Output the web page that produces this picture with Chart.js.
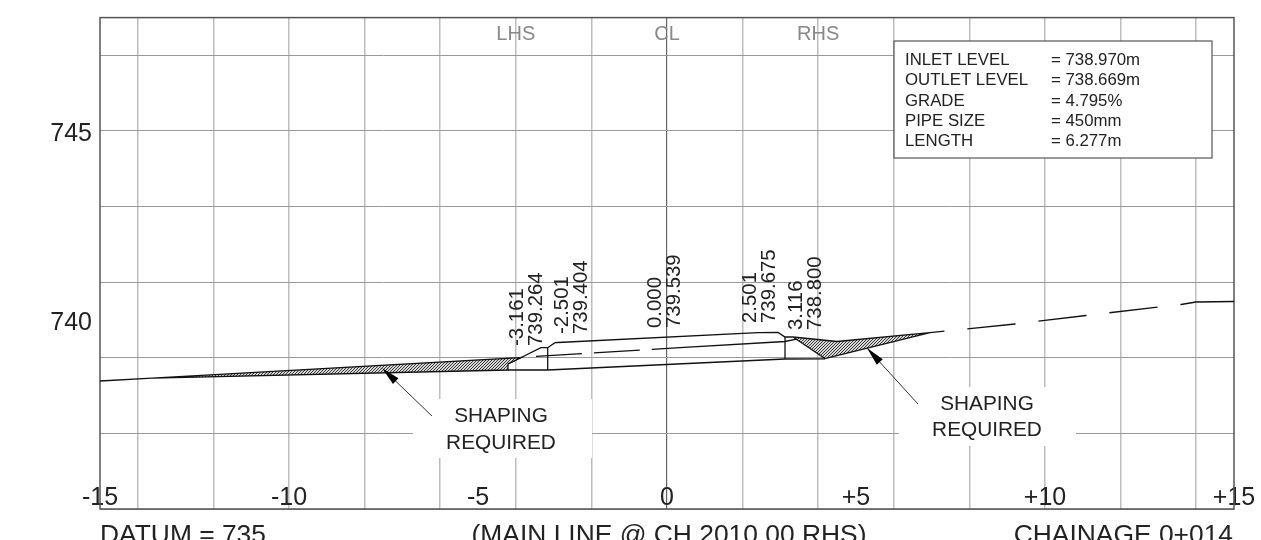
<!DOCTYPE html>
<html>
<head>
<meta charset="utf-8">
<script src="https://cdn.jsdelivr.net/npm/chart.js@4/dist/chart.umd.min.js"></script>
<style>
  html, body { margin: 0; padding: 0; background: #fff; overflow: hidden; }
  canvas { display: block; }
</style>
</head>
<body>
<canvas id="section" width="1261" height="540"></canvas>
<script>
// axis values
const xGridValues = [-14, -12, -10, -8, -6, -4, -2, 0, 2, 4, 6, 8, 10, 12, 14];
const xLabelValues = [-15, -10, -5, 0, 5, 10, 15];
const xTickLabels = ['-15', '-10', '-5', '0', '+5', '+10', '+15'];
const yGridValues = [735, 737, 739, 741, 743, 745, 747];
const yLabelValues = [745, 740];
const yTickLabels = ['745', '740'];

// ground and culvert section, offset (m) and level (m)
const groundLeftX = [-15, -13.624];
const groundLeftY = [738.386, 738.46];
const shapingLeftX = [-13.624, -3.862, -4.206, -4.206, -13.624];
const shapingLeftY = [738.46, 739.008, 738.836, 738.677, 738.46];
const shapingRightX = [3.333, 4.497, 6.958, 4.18, 3.333];
const shapingRightY = [739.55, 739.431, 739.664, 738.981, 739.55];
const groundDashX = [6.958, 9.206, 11.085, 12.989, 13.598];
const groundDashY = [739.664, 739.894, 740.119, 740.344, 740.41];
const groundRightX = [13.598, 13.995, 15];
const groundRightY = [740.41, 740.476, 740.49];
const topX = [-4.206, -3.333, -3.156, -2.963, -2.884, 2.407, 2.937, 3.122, 3.333];
const topY = [738.836, 739.267, 739.267, 739.399, 739.405, 739.664, 739.669, 739.55, 739.55];
const baseX = [-4.206, -3.156, 3.122, 4.18];
const baseY = [738.677, 738.677, 738.968, 738.974];
const wallLeftX = [-3.156, -3.156];
const wallLeftY = [739.267, 738.677];
const wallRightX = [3.122, 3.122];
const wallRightY = [739.55, 738.968];
const pipeDashX = [-3.466, 0.344];
const pipeDashY = [739.04, 739.267];
const pipeX = [0.344, 3.122, 3.519];
const pipeY = [739.267, 739.431, 739.511];
const leaderLeftX = [-6.217, -7.54];
const leaderLeftY = [737.46, 738.73];
const leaderRightX = [6.64, 5.291];
const leaderRightY = [737.778, 739.259];

// text
const setoutOffsets = ['-3.161', '-2.501', '0.000', '2.501', '3.116'];
const setoutLevels = ['739.264', '739.404', '739.539', '739.675', '738.800'];
const infoNames = ['INLET LEVEL', 'OUTLET LEVEL', 'GRADE', 'PIPE SIZE', 'LENGTH'];
const infoValues = ['= 738.970m', '= 738.669m', '= 4.795%', '= 450mm', '= 6.277m'];

const pts = (xs, ys) => xs.map((x, i) => ({ x, y: ys[i] }));

function hatchPattern() {
  const c = document.createElement('canvas');
  c.width = 3;
  c.height = 3;
  const g = c.getContext('2d');
  g.fillStyle = '#d8d8d8';
  g.fillRect(0, 0, 3, 3);
  g.strokeStyle = '#222';
  g.lineWidth = 0.9;
  g.beginPath();
  g.moveTo(-1, 4); g.lineTo(4, -1);
  g.moveTo(-1, 1); g.lineTo(1, -1);
  g.moveTo(2, 4); g.lineTo(4, 2);
  g.stroke();
  return g.createPattern(c, 'repeat');
}

const ink = '#111';
function line(xs, ys, extra) {
  return Object.assign({
    data: pts(xs, ys),
    borderColor: ink,
    borderWidth: 1.3,
    pointRadius: 0,
    tension: 0,
    fill: false
  }, extra);
}

// everything that is not a series: frame, masks, text
const sectionText = {
  id: 'sectionText',
  beforeDatasetsDraw(chart) {
    const { ctx, chartArea: a } = chart;
    ctx.save();
    ctx.fillStyle = '#fff';
    ctx.fillRect(413, 399, 179, 59);
    ctx.fillRect(899, 387, 177, 59);
    ctx.strokeStyle = '#555';
    ctx.lineWidth = 1.5;
    ctx.strokeRect(a.left, a.top, a.right - a.left, a.bottom - a.top);
    ctx.restore();
  },
  afterDatasetsDraw(chart) {
    const { ctx, scales: { x, y } } = chart;
    ctx.save();

    // arrow heads on the leaders
    [[leaderLeftX, leaderLeftY], [leaderRightX, leaderRightY]].forEach(([xs, ys]) => {
      const tx = x.getPixelForValue(xs[1]), ty = y.getPixelForValue(ys[1]);
      const fx = x.getPixelForValue(xs[0]), fy = y.getPixelForValue(ys[0]);
      const ang = Math.atan2(ty - fy, tx - fx);
      ctx.save();
      ctx.translate(tx, ty);
      ctx.rotate(ang);
      ctx.fillStyle = '#000';
      ctx.beginPath();
      ctx.moveTo(0, 0);
      ctx.lineTo(-19, -4);
      ctx.lineTo(-19, 4);
      ctx.closePath();
      ctx.fill();
      ctx.restore();
    });

    ctx.textBaseline = 'middle';
    ctx.textAlign = 'center';
    ctx.fillStyle = '#888';
    ctx.font = '20px "Liberation Sans"';
    [['LHS', -4], ['CL', 0], ['RHS', 4]].forEach(([t, v]) => {
      ctx.fillText(t, x.getPixelForValue(v), 34);
    });

    ctx.fillStyle = '#222';
    ctx.font = '20.8px "Liberation Sans"';
    ctx.fillText('SHAPING', 501, 416);
    ctx.fillText('REQUIRED', 501, 443);
    ctx.fillText('SHAPING', 987, 404);
    ctx.fillText('REQUIRED', 987, 430);

    // rotated setout labels
    const anchors = [[527, 346], [571.5, 334], [664.5, 328], [760, 323], [805.5, 330]];
    ctx.font = '20.4px "Liberation Sans"';
    ctx.textAlign = 'left';
    setoutOffsets.forEach((t, i) => {
      ctx.save();
      ctx.translate(anchors[i][0], anchors[i][1]);
      ctx.rotate(-Math.PI / 2);
      ctx.fillText(t, 0, -9.5);
      ctx.fillText(setoutLevels[i], 0, 9.5);
      ctx.restore();
    });

    // info box
    ctx.fillStyle = '#fff';
    ctx.strokeStyle = '#555';
    ctx.lineWidth = 1.2;
    ctx.fillRect(894, 41, 318, 117);
    ctx.strokeRect(894, 41, 318, 117);
    ctx.fillStyle = '#222';
    ctx.font = '16.8px "Liberation Sans"';
    infoNames.forEach((t, i) => {
      ctx.fillText(t, 905, 60.5 + i * 20.2);
      ctx.fillText(infoValues[i], 1051, 60.5 + i * 20.2);
    });

    // footer, runs off the bottom of the page like the drawing does
    ctx.font = '26.4px "Liberation Sans"';
    ctx.fillStyle = '#222';
    ctx.textBaseline = 'alphabetic';
    ctx.textAlign = 'left';
    ctx.fillText('DATUM = 735', 100, 542.5);
    ctx.textAlign = 'center';
    ctx.fillText('(MAIN LINE @ CH 2010.00 RHS)', 669, 542.5);
    ctx.textAlign = 'right';
    ctx.fillText('CHAINAGE 0+014', 1233, 542.5);
    ctx.restore();
  }
};

new Chart(document.getElementById('section'), {
  type: 'line',
  data: {
    datasets: [
      line(groundLeftX, groundLeftY),
      line(shapingLeftX, shapingLeftY, { fill: 'shape', backgroundColor: hatchPattern() }),
      line(shapingRightX, shapingRightY, { fill: 'shape', backgroundColor: hatchPattern() }),
      line(groundDashX, groundDashY, { borderDash: [48.5, 23], borderDashOffset: 34 }),
      line(groundRightX, groundRightY),
      line(topX, topY),
      line(baseX, baseY),
      line(wallLeftX, wallLeftY),
      line(wallRightX, wallRightY),
      line(pipeDashX, pipeDashY, { borderDash: [46, 12] }),
      line(pipeX, pipeY),
      line(leaderLeftX, leaderLeftY, { borderColor: '#333', borderWidth: 1 }),
      line(leaderRightX, leaderRightY, { borderColor: '#333', borderWidth: 1 })
    ]
  },
  options: {
    responsive: false,
    animation: false,
    layout: { padding: { left: 40, right: 27, top: 17.6, bottom: 31 } },
    plugins: { legend: { display: false }, tooltip: { enabled: false } },
    scales: {
      x: {
        type: 'linear',
        min: -15,
        max: 15,
        afterBuildTicks(s) {
          s.ticks = [...new Set([...xLabelValues, ...xGridValues])].sort((a, b) => a - b).map(value => ({ value }));
        },
        afterFit(s) { s.height = 0; s.paddingLeft = 0; s.paddingRight = 0; },
        border: { display: false },
        grid: {
          drawTicks: false,
          lineWidth: c => (c.tick && c.tick.value === 0 ? 1.2 : 1.5),
          color: c => {
            if (!c.tick || !xGridValues.includes(c.tick.value)) return 'rgba(0,0,0,0)';
            return c.tick.value === 0 ? '#666' : '#bdbdbd';
          }
        },
        ticks: {
          autoSkip: false,
          maxRotation: 0,
          minRotation: 0,
          mirror: true, // keeps the labels inside the plot, above the base line
          padding: -4,
          color: '#222',
          font: { family: '"Liberation Sans"', size: 25 },
          callback: v => {
            const i = xLabelValues.indexOf(v);
            return i < 0 ? '' : xTickLabels[i];
          }
        }
      },
      y: {
        type: 'linear',
        min: 735,
        max: 748,
        afterBuildTicks(s) {
          s.ticks = [...new Set([...yLabelValues, ...yGridValues])].sort((a, b) => a - b).map(value => ({ value }));
        },
        afterFit(s) { s.width = 60; s.paddingTop = 0; s.paddingBottom = 0; },
        border: { display: false },
        grid: {
          drawTicks: false,
          lineWidth: 1,
          color: c => (c.tick && yGridValues.includes(c.tick.value) ? '#9a9a9a' : 'rgba(0,0,0,0)')
        },
        ticks: {
          autoSkip: false,
          padding: 8,
          labelOffset: 3.5,
          color: '#222',
          font: { family: '"Liberation Sans"', size: 25 },
          callback: v => {
            const i = yLabelValues.indexOf(v);
            return i < 0 ? '' : yTickLabels[i];
          }
        }
      }
    }
  },
  plugins: [sectionText]
});
</script>
</body>
</html>
